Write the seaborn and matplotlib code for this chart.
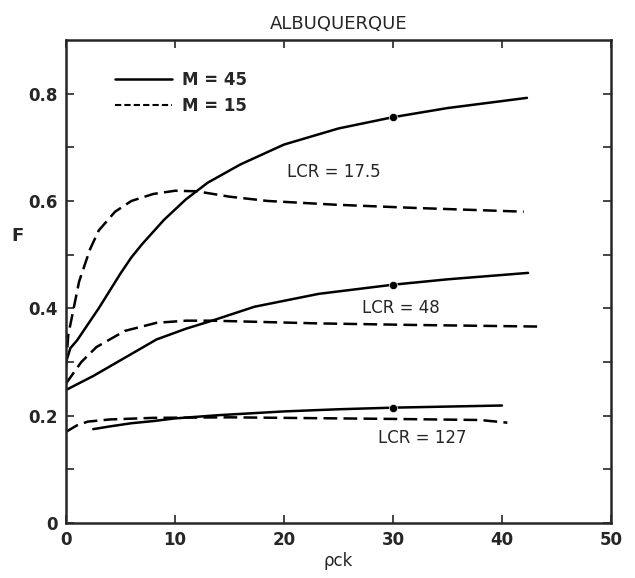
import matplotlib
matplotlib.use("Agg")
import matplotlib.pyplot as plt
import numpy as np
import pandas as pd
import seaborn as sns
from matplotlib.lines import Line2D

# LCR = 17.5
x_175_m45 = [0, 0.4, 1, 2, 3, 5, 6, 7, 9, 11, 13, 16, 20, 25, 30, 35, 40, 42.3]
f_175_m45 = [0.30, 0.326, 0.34, 0.37, 0.40, 0.465, 0.495, 0.52, 0.565, 0.603, 0.634, 0.668, 0.705, 0.735, 0.756, 0.773, 0.786, 0.792]
x_175_m15 = [0, 0.2, 0.7, 1.2, 2.2, 3, 4.5, 6, 8, 10, 12, 15, 18.5, 24.7, 32, 42]
f_175_m15 = [0.29, 0.35, 0.40, 0.45, 0.51, 0.545, 0.58, 0.60, 0.613, 0.619, 0.618, 0.608, 0.60, 0.593, 0.587, 0.58]

# LCR = 48
x_48_m45 = [0, 2.5, 5.4, 8.3, 11, 13.4, 17.3, 23.2, 30, 35, 42.4]
f_48_m45 = [0.248, 0.274, 0.308, 0.342, 0.362, 0.377, 0.403, 0.427, 0.444, 0.454, 0.466]
x_48_m15 = [0, 1.4, 2.8, 5.4, 8.3, 11, 13.4, 23, 32, 43.6]
f_48_m15 = [0.26, 0.30, 0.328, 0.358, 0.373, 0.377, 0.377, 0.372, 0.369, 0.366]

# LCR = 127
x_127_m45 = [2.5, 4, 6, 8, 10, 14, 20, 25, 30, 35, 40]
f_127_m45 = [0.175, 0.18, 0.186, 0.19, 0.195, 0.201, 0.208, 0.212, 0.215, 0.217, 0.219]
x_127_m15 = [0, 1, 2, 4, 8, 15, 20, 30, 38, 40.5]
f_127_m15 = [0.17, 0.182, 0.189, 0.193, 0.196, 0.197, 0.196, 0.194, 0.192, 0.187]

# marked points at rho*c*k = 30 on the M = 45 curves
dot_x = [30, 30, 30]
dot_f = [0.756, 0.444, 0.215]

labels = ["LCR = 17.5", "LCR = 48", "LCR = 127"]
label_pos = [(20.3, 0.654), (27.2, 0.40), (28.6, 0.158)]


def main():
    sns.set_style("ticks")
    plt.rcParams['font.family'] = ['DejaVu Sans']

    curves = [
        ("17.5", "45", x_175_m45, f_175_m45),
        ("17.5", "15", x_175_m15, f_175_m15),
        ("48", "45", x_48_m45, f_48_m45),
        ("48", "15", x_48_m15, f_48_m15),
        ("127", "45", x_127_m45, f_127_m45),
        ("127", "15", x_127_m15, f_127_m15),
    ]
    rows = []
    for lcr, m, xs, fs in curves:
        for x, f in zip(xs, fs):
            rows.append({"curve": lcr + "_" + m, "M": m, "x": x, "F": f})
    df = pd.DataFrame(rows)

    fig = plt.figure(figsize=(6.35, 5.78), dpi=100)
    ax = fig.add_axes([0.104, 0.095, 0.858, 0.836])

    sns.lineplot(data=df, x="x", y="F", units="curve", estimator=None, style="M",
                 style_order=["45", "15"], dashes={"45": "", "15": (5.5, 2.5)},
                 color="black", linewidth=1.8, sort=False, legend=False, ax=ax)
    sns.scatterplot(x=dot_x, y=dot_f, color="black", s=35, zorder=5, ax=ax)

    for text, (tx, ty) in zip(labels, label_pos):
        ax.text(tx, ty, text, fontsize=12, va="center", ha="left")

    handles = [Line2D([], [], color="black", lw=1.8),
               Line2D([], [], color="black", lw=1.5, dashes=(3, 1.5))]
    ax.legend(handles, ["M = 45", "M = 15"], loc="upper left", bbox_to_anchor=(0.09, 0.935),
              frameon=False, prop={"size": 12, "weight": "bold"}, handlelength=3.4,
              labelspacing=0.45, borderpad=0, borderaxespad=0, handletextpad=0.6)

    ax.set_xlim(0, 50)
    ax.set_ylim(0, 0.9)
    ax.set_xticks([0, 10, 20, 30, 40, 50])
    ax.set_yticks(np.arange(0, 0.85, 0.1))
    ax.set_yticklabels(["0", "", "0.2", "", "0.4", "", "0.6", "", "0.8"])
    ax.tick_params(direction="in", length=6, width=1.2, top=True, right=True,
                   labelsize=12, pad=6)
    for lab in ax.get_xticklabels() + ax.get_yticklabels():
        lab.set_fontweight("bold")
    for sp in ax.spines.values():
        sp.set_linewidth(1.8)
        sp.set_visible(True)

    ax.set_xlabel("ρck", fontsize=12, labelpad=2)
    ax.set_ylabel("F", fontsize=13, fontweight="bold", rotation=0)
    ax.yaxis.set_label_coords(-0.09, 0.575)
    ax.set_title("ALBUQUERQUE", fontsize=13, pad=8)

    fig.savefig("out.png", dpi=100)


if __name__ == "__main__":
    main()
